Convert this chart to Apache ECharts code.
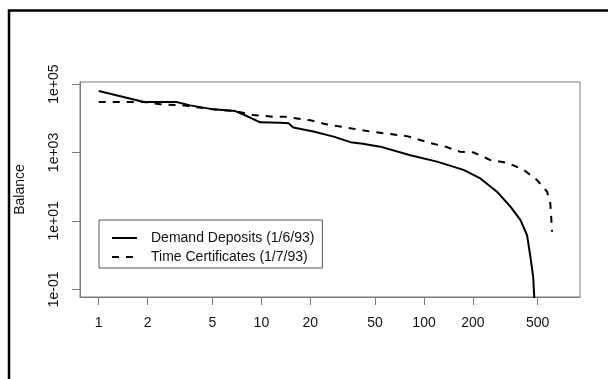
<!DOCTYPE html>
<html>
<head>
<meta charset="utf-8">
<script src="https://cdn.jsdelivr.net/npm/echarts@6/dist/echarts.min.js"></script>
<style>
html,body{margin:0;padding:0;background:#fff;}
#chart{width:608px;height:379px;}
</style>
</head>
<body>
<div id="chart"></div>
<script>
// ---- data (rank vs balance) ----
const demandName = 'Demand Deposits (1/6/93)';
const timeName = 'Time Certificates (1/7/93)';

const demandRank = [1, 1.9, 3, 3.65, 5.07, 6.9, 7.76, 9.84, 13, 14.7, 15.7, 20.9, 27.8, 35.3, 42, 53.8, 82.4, 120, 175, 222, 281, 340, 392, 430, 451, 469, 480];
const demandBalance = [62400, 29800, 29800, 23800, 18200, 16200, 12900, 7600, 7400, 7100, 5400, 4100, 2900, 2000, 1800, 1480, 830, 540, 310, 174, 71, 26, 10.5, 3.8, 0.89, 0.23, 0.03];

const timeRank = [1, 1.9, 2.38, 3.3, 5.07, 6.9, 8.9, 11.9, 14, 20, 25.3, 46.7, 78.6, 109, 135, 167, 202, 256, 324, 410, 496, 571, 598, 613];
const timeBalance = [29800, 29800, 25700, 23800, 18200, 16200, 12400, 11100, 11000, 8700, 6600, 4100, 3000, 1900, 1480, 1050, 1000, 600, 500, 310, 155, 71, 32, 4.8];

const xTickValues = [1, 2, 5, 10, 20, 50, 100, 200, 500];
const xTickLabels = ['1', '2', '5', '10', '20', '50', '100', '200', '500'];
const yTickValues = [0.1, 10, 1000, 100000];
const yTickLabels = ['1e-01', '1e+01', '1e+03', '1e+05'];

const xMin = 0.767, xMax = 910;
const yMin = 0.0596, yMax = 114800;

function pairs(xs, ys) { return xs.map((x, i) => [x, ys[i]]); }
function labelFor(values, labels, v) {
  let best = 0, bd = Infinity;
  for (let i = 0; i < values.length; i++) {
    const d = Math.abs(Math.log10(values[i]) - Math.log10(v));
    if (d < bd) { bd = d; best = i; }
  }
  return labels[best];
}

const font = 'Liberation Sans, Arial, sans-serif';
const gray = '#7a7a7a';

const chart = echarts.init(document.getElementById('chart'), null, {renderer: 'canvas'});
chart.setOption({
  animation: false,
  backgroundColor: '#fff',
  grid: {left: 80, top: 82, right: 28, bottom: 82, show: true, borderColor: gray, borderWidth: 1, containLabel: false},
  xAxis: {
    type: 'log', logBase: 10, min: xMin, max: xMax,
    axisLine: {show: true, lineStyle: {color: gray, width: 1}},
    axisTick: {show: true, length: 8, lineStyle: {color: gray}, customValues: xTickValues},
    axisLabel: {show: true, customValues: xTickValues, color: '#111', fontSize: 14, fontFamily: font, margin: 19,
      formatter: v => labelFor(xTickValues, xTickLabels, v)},
    splitLine: {show: false}, minorTick: {show: false}
  },
  yAxis: {
    type: 'log', logBase: 10, min: yMin, max: yMax,
    name: 'Balance', nameLocation: 'middle', nameRotate: 90, nameGap: 53,
    nameTextStyle: {color: '#111', fontSize: 14, fontFamily: font},
    axisLine: {show: true, lineStyle: {color: gray, width: 1}},
    axisTick: {show: true, length: 8, lineStyle: {color: gray}, customValues: yTickValues},
    axisLabel: {show: true, customValues: yTickValues, rotate: 90, color: '#111', fontSize: 14, fontFamily: font, margin: 19,
      formatter: v => labelFor(yTickValues, yTickLabels, v)},
    splitLine: {show: false}, minorTick: {show: false}
  },
  legend: {
    orient: 'vertical', left: 99, top: 220,
    itemWidth: 25, itemHeight: 14, itemGap: 5,
    padding: [11, 8, 4, 12],
    borderColor: '#555', borderWidth: 1,
    itemStyle: {opacity: 0},
    textStyle: {color: '#111', fontSize: 14, fontFamily: font, padding: [0, 0, 0, 9]},
    data: [demandName, timeName]
  },
  series: [
    {name: demandName, type: 'line', symbol: 'none', clip: true, color: '#000',
      lineStyle: {color: '#000', width: 2, type: 'solid'}, data: pairs(demandRank, demandBalance)},
    {name: timeName, type: 'line', symbol: 'none', clip: true, color: '#000',
      lineStyle: {color: '#000', width: 2, type: [7, 7]}, data: pairs(timeRank, timeBalance)}
  ],
  graphic: [{
    type: 'polyline', silent: true,
    shape: {points: [[9, 379], [9, 10.5], [608, 10.5]]},
    style: {stroke: '#000', lineWidth: 2.5, fill: null}
  }]
});
</script>
</body>
</html>
